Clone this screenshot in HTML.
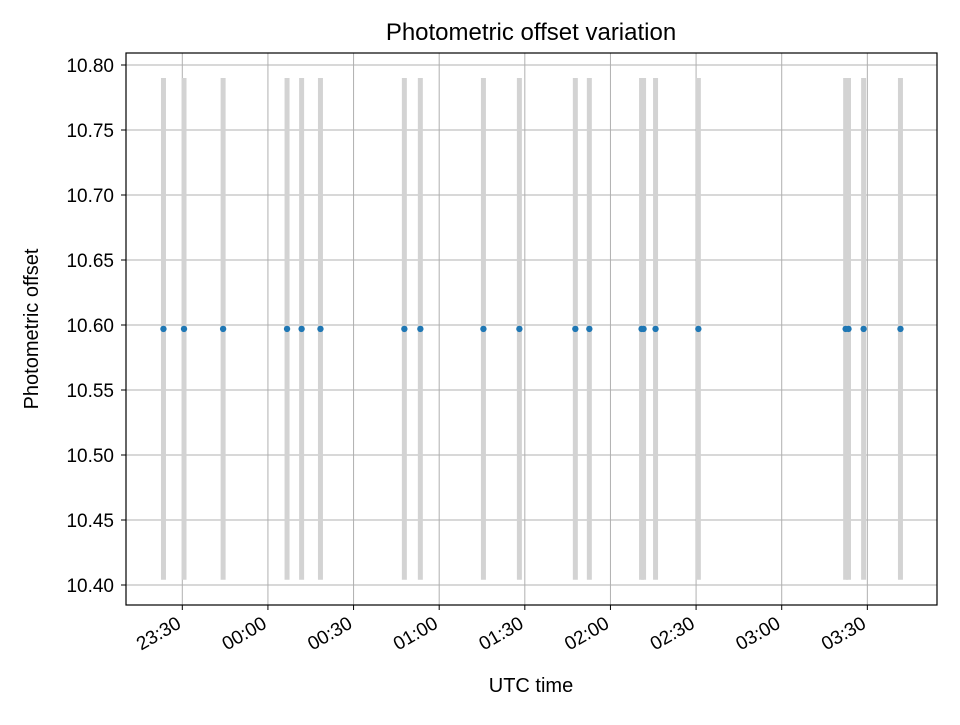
<!DOCTYPE html>
<html><head><meta charset="utf-8"><style>
body{margin:0;background:#fff;}
svg text{font-family:"Liberation Sans","DejaVu Sans",sans-serif;fill:#000;}
</style></head><body>
<svg id="chart" width="960" height="720" xmlns="http://www.w3.org/2000/svg">
<rect width="960" height="720" fill="#fff"/>
<g id="grid"></g>
<g id="bars"></g>
<g id="pts"></g>
<rect x="126" y="53" width="811" height="552" fill="none" stroke="#000" stroke-width="1.2"/>
<g id="axes"></g>
<text x="531" y="40" font-size="24" text-anchor="middle">Photometric offset variation</text>
<text x="531" y="692" font-size="20" text-anchor="middle">UTC time</text>
<text x="38" y="329" font-size="20" text-anchor="middle" transform="rotate(-90 38 329)">Photometric offset</text>
</svg>
<script>
// minutes relative to 23:30 UTC
const times = [-6.6,0.6,14.3,36.7,41.8,48.4,77.8,83.4,105.5,118.1,137.7,142.6,160.9,161.6,165.8,180.8,232.4,233.4,238.7,251.6];
const values = [10.597,10.597,10.597,10.597,10.597,10.597,10.597,10.597,10.597,10.597,10.597,10.597,10.597,10.597,10.597,10.597,10.597,10.597,10.597,10.597];
const errors = [0.193,0.193,0.193,0.193,0.193,0.193,0.193,0.193,0.193,0.193,0.193,0.193,0.193,0.193,0.193,0.193,0.193,0.193,0.193,0.193];
const yTicks = [10.40,10.45,10.50,10.55,10.60,10.65,10.70,10.75,10.80];
const xTicks = [0,30,60,90,120,150,180,210,240];
const xTickLabels = ["23:30","00:00","00:30","01:00","01:30","02:00","02:30","03:00","03:30"];
const X = m => 182.3 + m*(85.63/30);
const Y = v => 585 - (v-10.40)*1300;
const NS="http://www.w3.org/2000/svg";
function mk(tag, attrs, parent){const e=document.createElementNS(NS,tag);for(const k in attrs)e.setAttribute(k,attrs[k]);parent.appendChild(e);return e;}
const grid=document.getElementById('grid'), axes=document.getElementById('axes');
yTicks.forEach(v=>{
  const y=Y(v);
  const g=mk('line',{x1:126,x2:937,y1:y,y2:y,stroke:'#b0b0b0','stroke-width':1},grid);
  
  
  const t=mk('line',{x1:121,x2:126,y1:y,y2:y,stroke:'#000','stroke-width':1},axes);
  
  
  const l=mk('text',{x:114,y:y+7,'font-size':19,'text-anchor':'end'},axes);
  l.textContent=v.toFixed(2);
  
  
});
xTicks.forEach((m,i)=>{
  const x=X(m);
  const g=mk('line',{x1:x,x2:x,y1:53,y2:605,stroke:'#b0b0b0','stroke-width':1},grid);
  
  
  const t=mk('line',{x1:x,x2:x,y1:605,y2:610,stroke:'#000','stroke-width':1},axes);
  
  
  const l=mk('text',{x:x,y:627,'font-size':19,'text-anchor':'end',transform:`rotate(-30 ${x} 627)`},axes);
  l.textContent=xTickLabels[i];
  
  
});
const bars=document.getElementById('bars'), pts=document.getElementById('pts');
times.forEach((m,i)=>{
  const x=X(m);
  const b=mk('line',{x1:x,x2:x,y1:Y(values[i]+errors[i]),y2:Y(values[i]-errors[i]),stroke:'#d3d3d3','stroke-width':5},bars);
  
  
  const c=mk('circle',{cx:x,cy:Y(values[i]),r:3.2,fill:'#1f77b4'},pts);
  
  
});
</script>
</body></html>
